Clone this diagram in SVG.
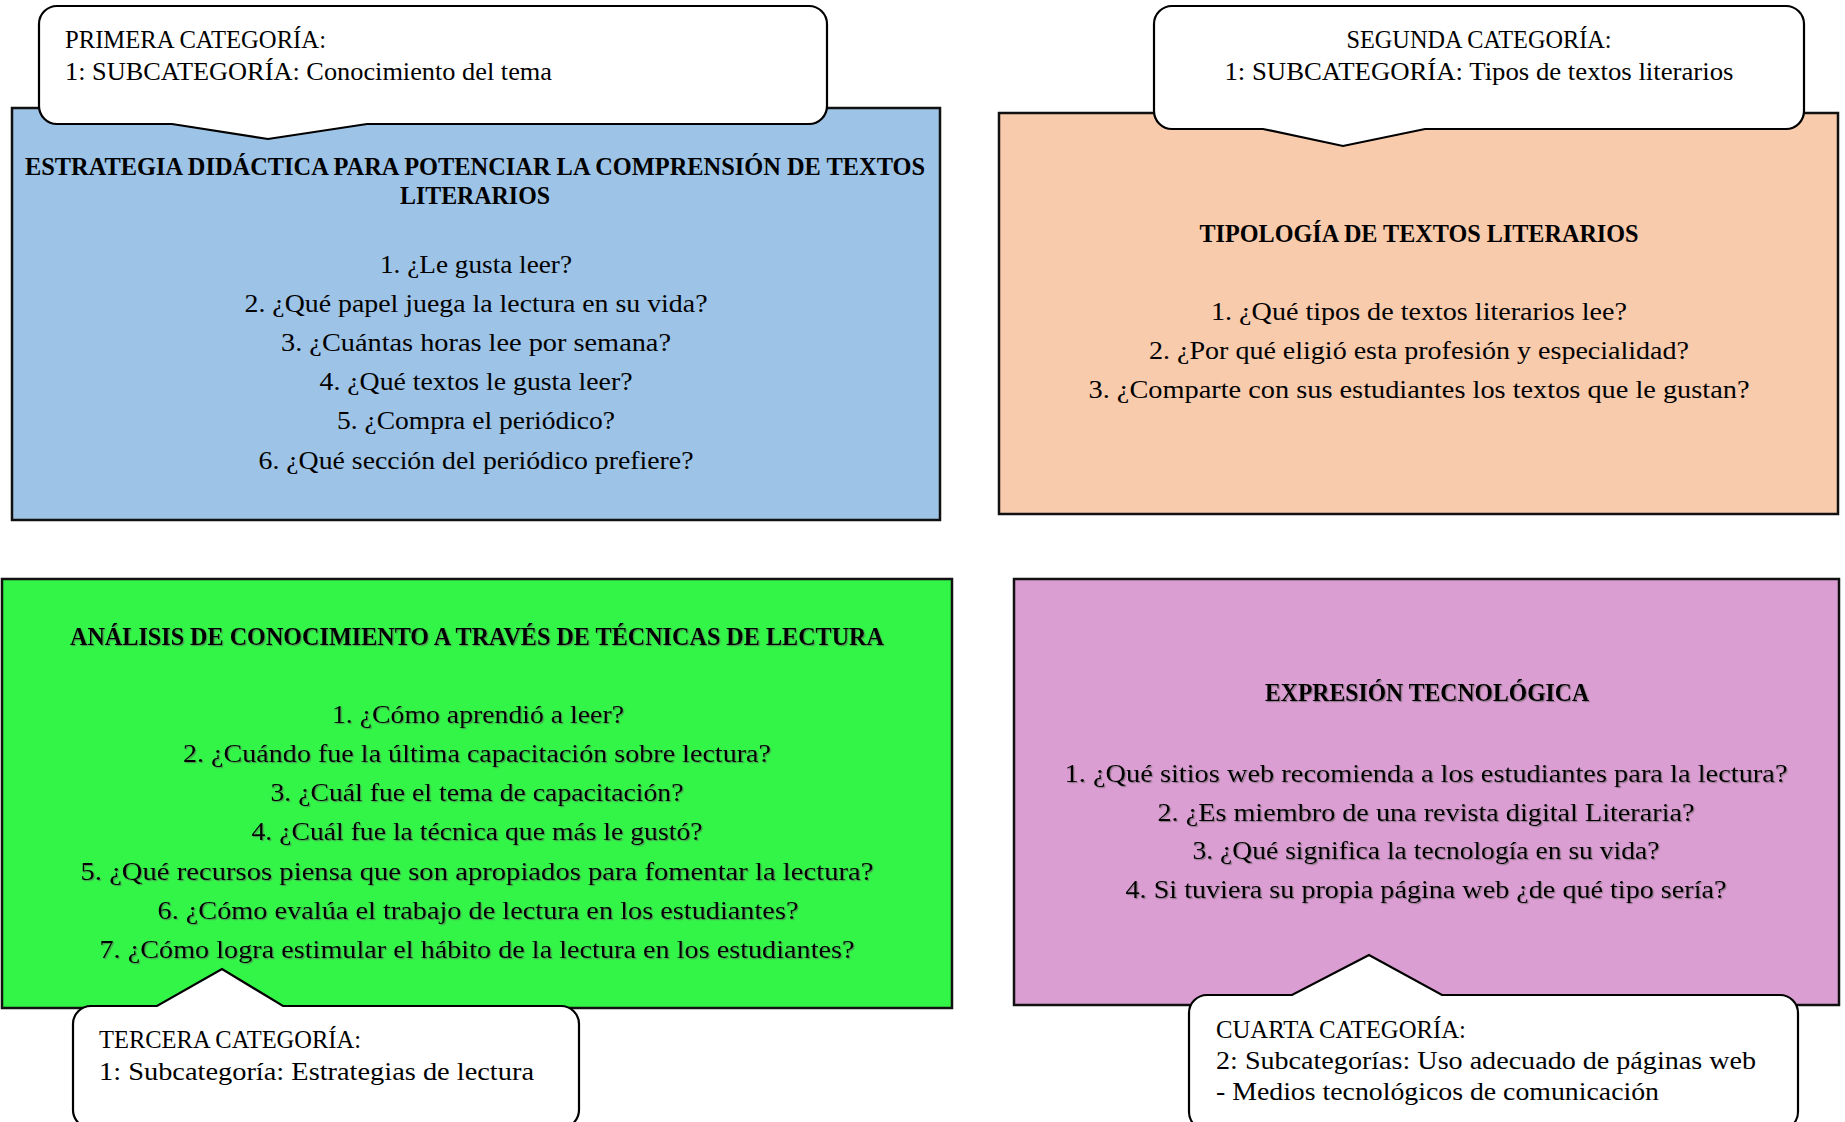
<svg xmlns="http://www.w3.org/2000/svg" width="1845" height="1122" viewBox="0 0 1845 1122">
<defs>
<style>
.box{stroke:#111;stroke-width:2.5}
.call{fill:#fff;stroke:#000;stroke-width:2.2;stroke-linejoin:miter}
text{font-family:"Liberation Serif","Times New Roman",serif;font-size:25px;fill:#000}
.t{font-weight:bold}
.c{text-anchor:middle}
.sh{filter:url(#shadow)}
</style>
<filter id="shadow" x="-5%" y="-50%" width="110%" height="200%">
<feDropShadow dx="1.2" dy="1.2" stdDeviation="0.7" flood-color="#555" flood-opacity="0.55"/>
</filter>
</defs>
<rect width="1845" height="1122" fill="#fff"/>

<g id="box-estrategia">
<rect class="box" x="12" y="108" width="928" height="412" fill="#9DC3E6"/>
<text class="t c" x="475" y="175" textLength="900" lengthAdjust="spacingAndGlyphs">ESTRATEGIA DIDÁCTICA PARA POTENCIAR LA COMPRENSIÓN DE TEXTOS</text>
<text class="t c" x="475" y="204" textLength="150" lengthAdjust="spacingAndGlyphs">LITERARIOS</text>
<text class="c" x="476" y="273" textLength="192" lengthAdjust="spacingAndGlyphs">1. ¿Le gusta leer?</text>
<text class="c" x="476" y="312" textLength="463" lengthAdjust="spacingAndGlyphs">2. ¿Qué papel juega la lectura en su vida?</text>
<text class="c" x="476" y="351" textLength="390" lengthAdjust="spacingAndGlyphs">3. ¿Cuántas horas lee por semana?</text>
<text class="c" x="476" y="390" textLength="313" lengthAdjust="spacingAndGlyphs">4. ¿Qué textos le gusta leer?</text>
<text class="c" x="476" y="429" textLength="278" lengthAdjust="spacingAndGlyphs">5. ¿Compra el periódico?</text>
<text class="c" x="476" y="469" textLength="435" lengthAdjust="spacingAndGlyphs">6. ¿Qué sección del periódico prefiere?</text>
</g>

<g id="box-tipologia">
<rect class="box" x="999" y="113" width="839" height="401" fill="#F8CBAD"/>
<text class="t c" x="1419" y="242" textLength="439" lengthAdjust="spacingAndGlyphs">TIPOLOGÍA DE TEXTOS LITERARIOS</text>
<text class="c" x="1419" y="320" textLength="416" lengthAdjust="spacingAndGlyphs">1. ¿Qué tipos de textos literarios lee?</text>
<text class="c" x="1419" y="359" textLength="540" lengthAdjust="spacingAndGlyphs">2. ¿Por qué eligió esta profesión y especialidad?</text>
<text class="c" x="1419" y="398" textLength="661" lengthAdjust="spacingAndGlyphs">3. ¿Comparte con sus estudiantes los textos que le gustan?</text>
</g>

<g id="box-analisis">
<rect class="box" x="2" y="579" width="950" height="429" fill="#33F548"/>
<g class="sh">
<text class="t c" x="477" y="645" textLength="814" lengthAdjust="spacingAndGlyphs">ANÁLISIS DE CONOCIMIENTO A TRAVÉS DE TÉCNICAS DE LECTURA</text>
<text class="c" x="478" y="723" textLength="292" lengthAdjust="spacingAndGlyphs">1. ¿Cómo aprendió a leer?</text>
<text class="c" x="477" y="762" textLength="588" lengthAdjust="spacingAndGlyphs">2. ¿Cuándo fue la última capacitación sobre lectura?</text>
<text class="c" x="477" y="801" textLength="413" lengthAdjust="spacingAndGlyphs">3. ¿Cuál fue el tema de capacitación?</text>
<text class="c" x="477" y="840" textLength="451" lengthAdjust="spacingAndGlyphs">4. ¿Cuál fue la técnica que más le gustó?</text>
<text class="c" x="477" y="880" textLength="793" lengthAdjust="spacingAndGlyphs">5. ¿Qué recursos piensa que son apropiados para fomentar la lectura?</text>
<text class="c" x="478" y="919" textLength="641" lengthAdjust="spacingAndGlyphs">6. ¿Cómo evalúa el trabajo de lectura en los estudiantes?</text>
<text class="c" x="477" y="958" textLength="755" lengthAdjust="spacingAndGlyphs">7. ¿Cómo logra estimular el hábito de la lectura en los estudiantes?</text>
</g>
</g>

<g id="box-expresion">
<rect class="box" x="1014" y="579" width="825" height="426" fill="#DB9ED2"/>
<g class="sh">
<text class="t c" x="1427" y="701" textLength="324" lengthAdjust="spacingAndGlyphs">EXPRESIÓN TECNOLÓGICA</text>
<text class="c" x="1426" y="782" textLength="723" lengthAdjust="spacingAndGlyphs">1. ¿Qué sitios web recomienda a los estudiantes para la lectura?</text>
<text class="c" x="1426" y="821" textLength="537" lengthAdjust="spacingAndGlyphs">2. ¿Es miembro de una revista digital Literaria?</text>
<text class="c" x="1426" y="859" textLength="467" lengthAdjust="spacingAndGlyphs">3. ¿Qué significa la tecnología en su vida?</text>
<text class="c" x="1426" y="898" textLength="601" lengthAdjust="spacingAndGlyphs">4. Si tuviera su propia página web ¿de qué tipo sería?</text>
</g>
</g>

<g id="callout-primera">
<path class="call" d="M57 6 H809 A18 18 0 0 1 827 24 V106 A18 18 0 0 1 809 124 H367 L268 139 L172 124 H57 A18 18 0 0 1 39 106 V24 A18 18 0 0 1 57 6 Z"/>
<text x="65" y="48" textLength="261" lengthAdjust="spacingAndGlyphs">PRIMERA CATEGORÍA:</text>
<text x="65" y="80" textLength="487" lengthAdjust="spacingAndGlyphs">1: SUBCATEGORÍA: Conocimiento del tema</text>
</g>

<g id="callout-segunda">
<path class="call" d="M1172 6 H1786 A18 18 0 0 1 1804 24 V111 A18 18 0 0 1 1786 129 H1425 L1343 146 L1263 129 H1172 A18 18 0 0 1 1154 111 V24 A18 18 0 0 1 1172 6 Z"/>
<text class="c" x="1479" y="48" textLength="265" lengthAdjust="spacingAndGlyphs">SEGUNDA CATEGORÍA:</text>
<text class="c" x="1479" y="80" textLength="509" lengthAdjust="spacingAndGlyphs">1: SUBCATEGORÍA: Tipos de textos literarios</text>
</g>

<g id="callout-tercera">
<path class="call" d="M91 1006 H157 L222 969 L283 1006 H561 A18 18 0 0 1 579 1024 V1110 A18 18 0 0 1 561 1128 H91 A18 18 0 0 1 73 1110 V1024 A18 18 0 0 1 91 1006 Z"/>
<text x="99" y="1048" textLength="262" lengthAdjust="spacingAndGlyphs">TERCERA CATEGORÍA:</text>
<text x="99" y="1080" textLength="435" lengthAdjust="spacingAndGlyphs">1: Subcategoría: Estrategias de lectura</text>
</g>

<g id="callout-cuarta">
<path class="call" d="M1207 995 H1292 L1369 955 L1442 995 H1780 A18 18 0 0 1 1798 1013 V1112 A18 18 0 0 1 1780 1130 H1207 A18 18 0 0 1 1189 1112 V1013 A18 18 0 0 1 1207 995 Z"/>
<text x="1216" y="1038" textLength="250" lengthAdjust="spacingAndGlyphs">CUARTA CATEGORÍA:</text>
<text x="1216" y="1069" textLength="540" lengthAdjust="spacingAndGlyphs">2: Subcategorías: Uso adecuado de páginas web</text>
<text x="1216" y="1100" textLength="443" lengthAdjust="spacingAndGlyphs">- Medios tecnológicos de comunicación</text>
</g>
</svg>
